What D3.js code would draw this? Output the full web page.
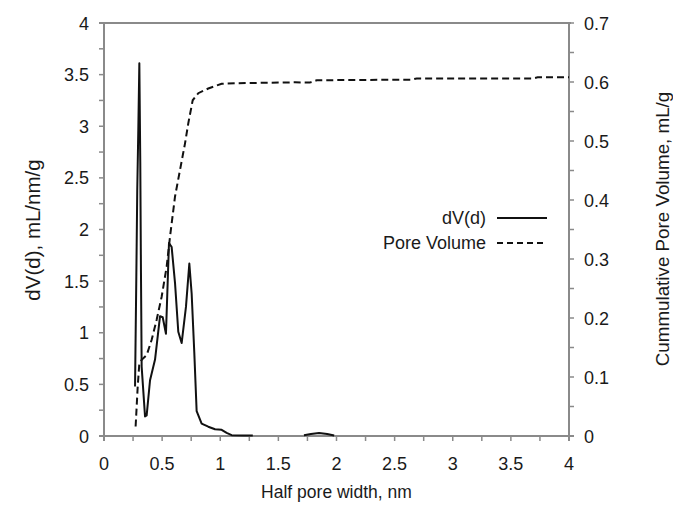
<!DOCTYPE html>
<html><head><meta charset="utf-8">
<script src="https://cdn.jsdelivr.net/npm/d3@7"></script>
<style>body{margin:0;background:#fff;} text{font-family:"Liberation Sans",Arial,sans-serif;}</style>
</head><body><svg id="c" width="673" height="513"></svg>
<script>
// dV(d) distribution (left axis); null = no data drawn
const dvX = [0.267,0.278,0.286,0.295,0.304,0.312,0.318,0.324,0.353,0.367,0.396,0.439,0.482,0.505,0.533,0.559,0.582,0.611,0.639,0.668,0.705,0.734,0.754,0.777,0.797,0.840,0.897,0.955,1.012,1.055,1.098,1.20,1.28,1.30,1.70,1.72,1.78,1.85,1.92,1.98];
const dvY = [0.48,1.54,2.38,2.96,3.61,2.66,1.58,0.67,0.19,0.20,0.54,0.74,1.16,1.15,0.99,1.87,1.83,1.48,1.01,0.90,1.25,1.67,1.38,0.80,0.24,0.12,0.09,0.065,0.06,0.03,0.008,0.006,0.005,null,null,0.008,0.02,0.03,0.02,0.005];
// cumulative pore volume (right axis)
const pvX = [0.272,0.290,0.304,0.324,0.367,0.410,0.453,0.496,0.539,0.568,0.611,0.654,0.697,0.725,0.763,0.811,0.897,1.012,1.156,1.643,1.77,1.83,2.65,2.69,3.69,3.73,4.0];
const pvY = [0.016,0.084,0.123,0.129,0.137,0.163,0.197,0.236,0.287,0.338,0.406,0.451,0.496,0.530,0.569,0.581,0.589,0.597,0.598,0.5995,0.599,0.603,0.604,0.606,0.606,0.608,0.608];
const xTicks = [0,0.5,1,1.5,2,2.5,3,3.5,4];
const yLeftTicks = [0,0.5,1,1.5,2,2.5,3,3.5,4];
const yRightTicks = [0,0.1,0.2,0.3,0.4,0.5,0.6,0.7];
const legendLabels = ["dV(d)","Pore Volume"];

const svg = d3.select("#c");
const L=104, R=569, T=23, B=436;
const x = d3.scaleLinear().domain([0,4]).range([L,R]);
const yL = d3.scaleLinear().domain([0,4]).range([B,T]);
const yR = d3.scaleLinear().domain([0,0.7]).range([B,T]);
const axisColor = "#8a8a8a";

const g = svg.append("g");
d3.range(0,4.001,0.25).forEach(v=>g.append("line").attr("x1",x(v)).attr("x2",x(v)).attr("y1",B).attr("y2",B+5).attr("stroke",axisColor).attr("stroke-width",1.5));
d3.range(0,4.001,0.25).forEach(v=>g.append("line").attr("x1",L-5).attr("x2",L).attr("y1",yL(v)).attr("y2",yL(v)).attr("stroke",axisColor).attr("stroke-width",1.5));
d3.range(0,0.7001,0.05).forEach(v=>g.append("line").attr("x1",R).attr("x2",R+5).attr("y1",yR(v)).attr("y2",yR(v)).attr("stroke",axisColor).attr("stroke-width",1.5));
g.append("line").attr("x1",L-5).attr("x2",R+5).attr("y1",B).attr("y2",B).attr("stroke",axisColor).attr("stroke-width",2);
g.append("line").attr("x1",L-5).attr("x2",R+2).attr("y1",T).attr("y2",T).attr("stroke",axisColor).attr("stroke-width",2);
g.append("line").attr("x1",L).attr("x2",L).attr("y1",T).attr("y2",B+5).attr("stroke",axisColor).attr("stroke-width",2);
g.append("line").attr("x1",R).attr("x2",R).attr("y1",T).attr("y2",B+5).attr("stroke",axisColor).attr("stroke-width",2);

const fs = 18, tc="#1a1a1a";
svg.append("g").selectAll("text").data(xTicks).join("text").attr("x",d=>x(d)).attr("y",B+34).attr("text-anchor","middle").attr("font-size",fs).attr("fill",tc).text(d=>d);
svg.append("g").selectAll("text").data(yLeftTicks).join("text").attr("x",L-15).attr("y",d=>yL(d)+6.5).attr("text-anchor","end").attr("font-size",fs).attr("fill",tc).text(d=>d);
svg.append("g").selectAll("text").data(yRightTicks).join("text").attr("x",R+15).attr("y",d=>yR(d)+6.5).attr("text-anchor","start").attr("font-size",fs).attr("fill",tc).text(d=>d);

svg.append("text").attr("x",(L+R)/2).attr("y",498).attr("text-anchor","middle").attr("font-size",17.5).attr("fill",tc).text("Half pore width, nm");
svg.append("text").attr("transform","translate(40,230) rotate(-90)").attr("text-anchor","middle").attr("font-size",20.5).attr("fill",tc).text("dV(d), mL/nm/g");
svg.append("text").attr("transform","translate(669,229) rotate(-90)").attr("text-anchor","middle").attr("font-size",18.8).attr("fill",tc).text("Cummulative Pore Volume, mL/g");

const dv = dvX.map((d,i)=>({x:d,y:dvY[i]}));
const pv = pvX.map((d,i)=>({x:d,y:pvY[i]}));
svg.append("path").datum(dv).attr("fill","none").attr("stroke","#111").attr("stroke-width",2).attr("stroke-linejoin","round")
  .attr("d",d3.line().defined(d=>d.y!==null).x(d=>x(d.x)).y(d=>yL(d.y)));
svg.append("path").datum(pv).attr("fill","none").attr("stroke","#111").attr("stroke-width",2).attr("stroke-dasharray","7,4")
  .attr("d",d3.line().x(d=>x(d.x)).y(d=>yR(d.y)));

const lg = svg.append("g");
const ly = [218,243];
legendLabels.forEach((t,i)=>{
  lg.append("text").attr("x",486).attr("y",ly[i]+6).attr("text-anchor","end").attr("font-size",fs).attr("fill",tc).text(t);
  lg.append("line").attr("x1",497).attr("x2",547).attr("y1",ly[i]).attr("y2",ly[i]).attr("stroke","#111").attr("stroke-width",2).attr("stroke-dasharray",i?"6,4":null);
});
</script></body></html>
